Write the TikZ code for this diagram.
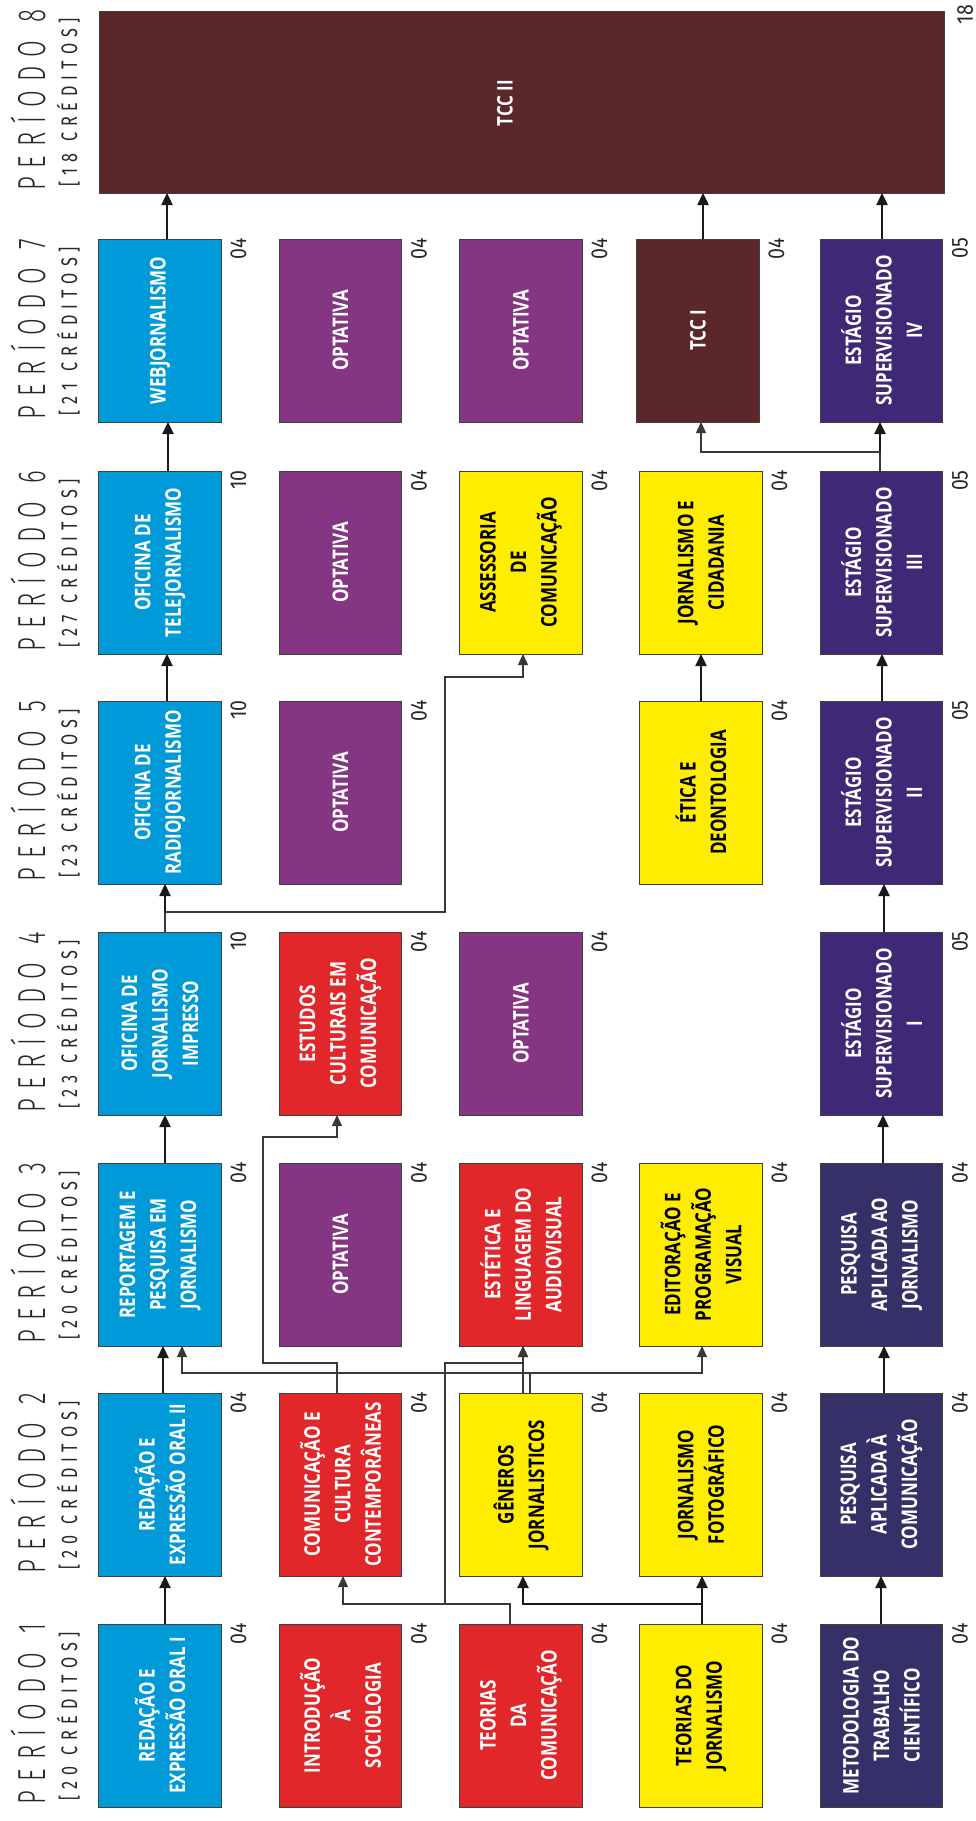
\documentclass[tikz,border=0pt]{standalone}
\usepackage{fontspec}
\usetikzlibrary{arrows.meta,calc}
\IfFontExistsTF{Fira Sans Light}{%
  \newfontfamily\hdrfont[FakeStretch=0.62]{Fira Sans Light}%
}{%
  \newfontfamily\hdrfont[FakeStretch=0.62]{Fira Sans}%
}
\newfontfamily\brkfont[FakeStretch=0.72]{Fira Sans}
\newfontfamily\credfont[FakeStretch=0.85]{Fira Sans}
\newfontfamily\boxfont[FakeStretch=0.79]{Open Sans}
\definecolor{cBlue}{RGB}{0,154,216}
\definecolor{cRed}{RGB}{226,39,42}
\definecolor{cPurp}{RGB}{132,54,131}
\definecolor{cYel}{RGB}{255,237,0}
\definecolor{cNavy}{RGB}{54,48,105}
\definecolor{cEst}{RGB}{63,41,118}
\definecolor{cBrown}{RGB}{92,39,40}
\definecolor{cTxt}{RGB}{40,40,40}
\newcommand\perhdr[1]{\makebox[181pt][s]{P\hfil E\hfil R\hfil Í\hfil O\hfil D\hfil O\hfil\hfil #1}}
\newcommand\credhdr[2]{\makebox[169pt][s]{[\hfil #1\hfil #2\hfil\hfil C\hfil R\hfil É\hfil D\hfil I\hfil T\hfil O\hfil S\hfil ]}}
\tikzset{
  box/.style={rotate=90, draw=black!75, line width=0.75pt, minimum width=183pt,
    minimum height=122.5pt, inner sep=0pt, outer sep=0pt, align=center, text=white,
    font=\boxfont\bfseries\fontsize{21.5}{30.5}\selectfont},
  bluebox/.style={box, fill=cBlue},
  redbox/.style={box, fill=cRed},
  purpbox/.style={box, fill=cPurp},
  yelbox/.style={box, fill=cYel, text=black},
  navybox/.style={box, fill=cNavy},
  estbox/.style={box, fill=cEst},
  brownbox/.style={box, fill=cBrown},
  credit/.style={rotate=90, anchor=north east, inner sep=0pt, text=cTxt,
    font=\credfont\fontsize{23}{23}\selectfont},
  hdr/.style={rotate=90, anchor=base west, inner sep=0pt, text=cTxt,
    font=\hdrfont\fontsize{39}{39}\selectfont},
  hdrsub/.style={rotate=90, anchor=base west, inner sep=0pt, text=cTxt,
    font=\brkfont\fontsize{22.5}{22.5}\selectfont},
  thk/.style={line width=2.4pt, draw=black!90, -{Triangle[length=12pt,width=11pt]}},
  thn/.style={line width=1.2pt, draw=black!78, -{Triangle[length=11pt,width=10pt]}},
}
\begin{document}
\begin{tikzpicture}[x=1pt,y=-1pt]
\useasboundingbox (0,0) rectangle (976,1821);

% ---------- headers ----------
\node[hdr] (h1) at (45,1805) {\perhdr{1}};
\node[hdrsub] (s1) at (77,1801) {\credhdr{2}{0}};
\node[hdr] (h2) at (45,1574) {\perhdr{2}};
\node[hdrsub] (s2) at (77,1570) {\credhdr{2}{0}};
\node[hdr] (h3) at (45,1344) {\perhdr{3}};
\node[hdrsub] (s3) at (77,1340) {\credhdr{2}{0}};
\node[hdr] (h4) at (45,1113) {\perhdr{4}};
\node[hdrsub] (s4) at (77,1109) {\credhdr{2}{3}};
\node[hdr] (h5) at (45,882) {\perhdr{5}};
\node[hdrsub] (s5) at (77,878) {\credhdr{2}{3}};
\node[hdr] (h6) at (45,652) {\perhdr{6}};
\node[hdrsub] (s6) at (77,648) {\credhdr{2}{7}};
\node[hdr] (h7) at (45,420) {\perhdr{7}};
\node[hdrsub] (s7) at (77,416) {\credhdr{2}{1}};
\node[hdr] (h8) at (45,191) {\perhdr{8}};
\node[hdrsub] (s8) at (77,187) {\credhdr{1}{8}};

% ---------- period 1 ----------
\node[bluebox] (p1r1) at (160,1715.5) {REDAÇÃO E\\EXPRESSÃO ORAL I};
\node[redbox]  (p1r2) at (340.5,1715.5) {INTRODUÇÃO\\À\\SOCIOLOGIA};
\node[redbox]  (p1r3) at (521,1715.5) {TEORIAS\\DA\\COMUNICAÇÃO};
\node[yelbox]  (p1r4) at (701,1715.5) {TEORIAS DO\\JORNALISMO};
\node[navybox] (p1r5) at (881.5,1715.5) {METODOLOGIA DO\\TRABALHO\\CIENTÍFICO};
% ---------- period 2 ----------
\node[bluebox] (p2r1) at (160,1484.5) {REDAÇÃO E\\EXPRESSÃO ORAL II};
\node[redbox]  (p2r2) at (340.5,1484.5) {COMUNICAÇÃO E\\CULTURA\\CONTEMPORÂNEAS};
\node[yelbox]  (p2r3) at (521,1484.5) {GÊNEROS\\JORNALISTICOS};
\node[yelbox]  (p2r4) at (701,1484.5) {JORNALISMO\\FOTOGRÁFICO};
\node[navybox] (p2r5) at (881.5,1484.5) {PESQUISA\\APLICADA À\\COMUNICAÇÃO};
% ---------- period 3 ----------
\node[bluebox] (p3r1) at (160,1254.5) {REPORTAGEM E\\PESQUISA EM\\JORNALISMO};
\node[purpbox] (p3r2) at (340.5,1254.5) {OPTATIVA};
\node[redbox]  (p3r3) at (521,1254.5) {ESTÉTICA E\\LINGUAGEM DO\\AUDIOVISUAL};
\node[yelbox]  (p3r4) at (701,1254.5) {EDITORAÇÃO E\\PROGRAMAÇÃO\\VISUAL};
\node[navybox] (p3r5) at (881.5,1254.5) {PESQUISA\\APLICADA AO\\JORNALISMO};
% ---------- period 4 ----------
\node[bluebox] (p4r1) at (160,1023.5) {OFICINA DE\\JORNALISMO\\IMPRESSO};
\node[redbox]  (p4r2) at (340.5,1023.5) {ESTUDOS\\CULTURAIS EM\\COMUNICAÇÃO};
\node[purpbox] (p4r3) at (521,1023.5) {OPTATIVA};
\node[estbox]  (p4r5) at (881.5,1023.5) {ESTÁGIO\\SUPERVISIONADO\\I};
% ---------- period 5 ----------
\node[bluebox] (p5r1) at (160,792.5) {OFICINA DE\\RADIOJORNALISMO};
\node[purpbox] (p5r2) at (340.5,792.5) {OPTATIVA};
\node[yelbox]  (p5r4) at (701,792.5) {ÉTICA E\\DEONTOLOGIA};
\node[estbox]  (p5r5) at (881.5,792.5) {ESTÁGIO\\SUPERVISIONADO\\II};
% ---------- period 6 ----------
\node[bluebox] (p6r1) at (160,562.5) {OFICINA DE\\TELEJORNALISMO};
\node[purpbox] (p6r2) at (340.5,562.5) {OPTATIVA};
\node[yelbox]  (p6r3) at (521,562.5) {ASSESSORIA\\DE\\COMUNICAÇÃO};
\node[yelbox]  (p6r4) at (701,562.5) {JORNALISMO E\\CIDADANIA};
\node[estbox]  (p6r5) at (881.5,562.5) {ESTÁGIO\\SUPERVISIONADO\\III};
% ---------- period 7 ----------
\node[bluebox] (p7r1) at (160,330.5) {WEBJORNALISMO};
\node[purpbox] (p7r2) at (340.5,330.5) {OPTATIVA};
\node[purpbox] (p7r3) at (521,330.5) {OPTATIVA};
\node[brownbox] (p7r4) at (698,330.5) {TCC I};
\node[estbox]  (p7r5) at (881.5,330.5) {ESTÁGIO\\SUPERVISIONADO\\IV};
% ---------- period 8 ----------
\node[brownbox, minimum width=182pt, minimum height=845pt] (p8) at (521.5,102) {};
\node[rotate=90, inner sep=0pt, text=white, font=\boxfont\bfseries\fontsize{21.5}{30.5}\selectfont] (p8t) at (505,103) {TCC II};

% ---------- credits ----------
\foreach \n/\c in {p1r1/04,p1r2/04,p1r3/04,p1r4/04,p1r5/04,
                   p2r1/04,p2r2/04,p2r3/04,p2r4/04,p2r5/04,
                   p3r1/04,p3r2/04,p3r3/04,p3r4/04,p3r5/04,
                   p4r1/10,p4r2/04,p4r3/04,p4r5/05,
                   p5r1/10,p5r2/04,p5r4/04,p5r5/05,
                   p6r1/10,p6r2/04,p6r3/04,p6r4/04,p6r5/05,
                   p7r1/04,p7r2/04,p7r3/04,p7r4/04,p7r5/05}
  \node[credit] (cr-\n) at ($(\n.south east)+(9,-1)$) {\c};
\node[credit] (cr-p8) at ($(p8.south east)+(13,-6)$) {18};

% ---------- thick connectors ----------
\draw[thk] (p1r1.east -| 165,0) -- (p2r1.west -| 165,0);
\draw[thk] (p2r1.east -| 163,0) -- (p3r1.west -| 163,0);
\draw[thk] (p3r1.east -| 165,0) -- (p4r1.west -| 165,0);
\draw[thk] (p4r1.east -| 165,0) -- (p5r1.west -| 165,0);
\draw[thk] (p5r1.east -| 167,0) -- (p6r1.west -| 167,0);
\draw[thk] (p6r1.east -| 168,0) -- (p7r1.west -| 168,0);
\draw[thk] (p7r1.east -| 167,0) -- (p8.west -| 167,0);

\draw[thk] (p1r4.east -| 702,0) -- (p2r4.west -| 702,0);
\draw[thk] (p1r4.east -| 702,0) -- ++(0,-20) -| (p2r3.west -| 523,0);
\draw[thk] (p5r4.east -| 701,0) -- (p6r4.west -| 701,0);
\draw[thk] (p7r4.east -| 703,0) -- (p8.west -| 703,0);

\draw[thk] (p1r5.east -| 881,0) -- (p2r5.west -| 881,0);
\draw[thk] (p2r5.east -| 884,0) -- (p3r5.west -| 884,0);
\draw[thk] (p3r5.east -| 883,0) -- (p4r5.west -| 883,0);
\draw[thk] (p4r5.east -| 884,0) -- (p5r5.west -| 884,0);
\draw[thk] (p5r5.east -| 882,0) -- (p6r5.west -| 882,0);
\draw[thk] (p6r5.east -| 880,0) -- (p7r5.west -| 880,0);
\draw[thk] (p7r5.east -| 882,0) -- (p8.west -| 882,0);

% ---------- thin connectors ----------
\draw[thn] (p1r3.east -| 510,0) -- ++(0,-20) -| (p2r2.west -| 343,0);
\draw[thn] (p1r3.east -| 510,0) -- ++(0,-20) -- (445,1604) -- (445,1363) -| (p3r3.west -| 523,0);
\draw[thn] (p2r3.east -| 523,0) -- (p3r3.west -| 523,0);
\draw[thn] (p2r3.east -| 530,0) -- ++(0,-20) -| (p3r1.west -| 182,0);
\draw[thn] (p2r3.east -| 530,0) -- ++(0,-20) -| (p3r4.west -| 702,0);
\draw[thn] (p2r2.east -| 337,0) -- ++(0,-30) -| (263,1137) -| (p4r2.west -| 337,0);
\draw[thn] (p4r1.east -| 165,0) -- ++(0,-20) -| (445,677) -| (p6r3.west -| 523,0);
\draw[thn] (p6r5.east -| 880,0) -- ++(0,-19) -| (p7r4.west -| 701,0);
\end{tikzpicture}
\end{document}
